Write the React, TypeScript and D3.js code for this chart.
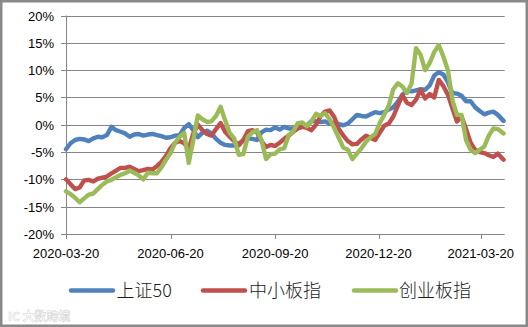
import React from "react";
import * as d3 from "d3";

const dates = [
  "2020-03-20","2020-03-24","2020-03-28","2020-04-01","2020-04-05","2020-04-09","2020-04-13","2020-04-17","2020-04-21","2020-04-25",
  "2020-04-29","2020-05-03","2020-05-07","2020-05-11","2020-05-15","2020-05-19","2020-05-23","2020-05-27","2020-05-31","2020-06-04",
  "2020-06-08","2020-06-12","2020-06-16","2020-06-20","2020-06-24","2020-06-28","2020-07-02","2020-07-06","2020-07-10","2020-07-14",
  "2020-07-18","2020-07-22","2020-07-26","2020-07-30","2020-08-03","2020-08-07","2020-08-11","2020-08-15","2020-08-19","2020-08-23",
  "2020-08-27","2020-08-31","2020-09-04","2020-09-08","2020-09-12","2020-09-16","2020-09-20","2020-09-24","2020-09-28","2020-10-02",
  "2020-10-06","2020-10-10","2020-10-14","2020-10-18","2020-10-22","2020-10-26","2020-10-30","2020-11-03","2020-11-07","2020-11-11",
  "2020-11-15","2020-11-19","2020-11-23","2020-11-27","2020-12-01","2020-12-05","2020-12-09","2020-12-13","2020-12-17","2020-12-21",
  "2020-12-25","2020-12-29","2021-01-02","2021-01-06","2021-01-10","2021-01-14","2021-01-18","2021-01-22","2021-01-26","2021-01-30",
  "2021-02-03","2021-02-07","2021-02-11","2021-02-15","2021-02-19","2021-02-23","2021-02-27","2021-03-03","2021-03-07","2021-03-11",
  "2021-03-15","2021-03-19","2021-03-23","2021-03-27","2021-03-31","2021-04-04","2021-04-09",
];

const sz50 = [
  -4.5,-3.4,-2.8,-2.6,-2.7,-3.0,-2.5,-2.2,-2.3,-1.9,
  -0.4,-1.0,-1.3,-1.6,-2.2,-1.8,-1.7,-2.0,-1.8,-1.7,
  -1.9,-2.1,-2.4,-2.3,-2.0,-1.9,-0.6,0.1,-1.0,-2.3,
  -1.5,-1.1,-1.6,-2.6,-3.3,-3.7,-3.8,-3.8,-3.4,-2.9,
  -2.5,-2.6,-2.8,-1.4,-0.9,-1.0,-0.5,-0.9,-0.4,-0.7,
  -0.7,-0.6,-0.3,-0.1,0.7,0.6,0.5,0.6,0.2,0.4,
  0.1,-0.1,0.2,1.0,1.8,1.6,1.5,1.9,2.3,2.1,
  2.3,2.8,3.2,4.2,5.5,6.2,6.1,6.3,6.5,6.4,
  7.2,9.0,9.6,9.2,7.8,5.8,5.7,5.3,4.3,4.3,
  3.2,2.5,1.9,2.2,2.4,1.8,0.7,
];

const zxb = [
  -10.0,-10.9,-11.8,-11.5,-10.2,-10.1,-10.4,-9.9,-9.7,-9.5,
  -8.9,-8.4,-7.9,-7.9,-7.7,-8.1,-8.5,-8.3,-8.1,-8.2,
  -7.6,-6.8,-5.7,-4.3,-3.3,-3.0,-3.4,-4.5,-1.6,0.0,
  -1.0,-1.7,-2.0,-0.8,0.3,-1.3,-2.2,-3.0,-3.8,-2.8,
  -1.2,-1.0,-1.4,-3.0,-4.1,-3.7,-3.9,-3.3,-2.6,-2.0,
  -1.3,-0.7,-0.4,-0.6,-1.0,0.0,1.6,2.4,2.6,1.4,
  -0.8,-2.0,-3.0,-3.6,-3.5,-2.7,-2.0,-2.4,-2.8,-1.5,
  -0.2,0.2,1.5,3.5,5.4,4.0,3.6,4.6,6.4,4.8,
  5.6,5.0,8.2,7.1,5.5,3.0,0.6,1.5,-0.8,-3.3,
  -4.6,-5.0,-5.2,-5.6,-5.9,-5.3,-6.4,
];

const cyb = [
  -12.2,-12.7,-13.4,-14.2,-13.5,-12.8,-12.6,-11.8,-11.0,-10.4,
  -10.1,-9.6,-9.2,-8.9,-8.4,-8.8,-9.3,-10.0,-8.8,-8.9,
  -8.9,-7.8,-6.4,-5.2,-3.3,-2.2,-1.5,-7.0,-2.8,1.7,
  1.0,0.5,0.6,1.6,3.3,0.8,-1.5,-2.5,-5.5,-5.4,
  -2.2,-1.4,-1.0,-2.8,-6.3,-5.4,-5.3,-4.5,-4.3,-1.9,
  -1.2,0.3,0.4,-0.3,0.6,2.0,1.6,2.1,1.0,-0.6,
  -2.4,-4.2,-4.6,-6.3,-5.3,-4.3,-3.1,-2.3,-1.7,0.3,
  1.8,3.5,6.5,7.6,7.0,5.8,7.5,14.0,12.8,10.0,
  11.3,13.3,14.6,12.5,10.0,4.5,1.8,1.8,-2.8,-4.6,
  -5.2,-4.6,-4.0,-2.0,-0.7,-0.8,-1.6,
];

const seriesNames = ["上证50", "中小板指", "创业板指"];
const seriesColors = ["#4F81BD", "#C0504D", "#9BBB59"];
const seriesValues = [sz50, zxb, cyb];

const yTicks = [-20, -15, -10, -5, 0, 5, 10, 15, 20];
const xTickLabels = ["2020-03-20", "2020-06-20", "2020-09-20", "2020-12-20", "2021-03-20"];
const xDomain = ["2020-03-20", "2021-04-10"];

const W = 528;
const H = 327;
const parse = d3.timeParse("%Y-%m-%d");
const fmt = d3.timeFormat("%Y-%m-%d");

export default function App() {
  const x = d3
    .scaleTime()
    .domain(xDomain.map((s) => parse(s) as Date))
    .range([66, 504.7]);
  const y = d3.scaleLinear().domain([-20, 20]).range([233.9, 15.5]);
  const parsedDates = dates.map((s) => parse(s) as Date);

  const line = d3
    .line<number>()
    .x((_, i) => x(parsedDates[i]))
    .y((v) => y(v));

  const xTicks = xTickLabels.map((s) => parse(s) as Date);
  const font = "'Liberation Sans', Arial, sans-serif";
  const legendItems = [
    { lx: 71, tx: 116.5 },
    { lx: 203, tx: 249 },
    { lx: 354, tx: 399 },
  ];

  return (
    <svg
      width={W}
      height={H}
      style={{ position: "absolute", left: 0, top: 0, background: "#fff" }}
    >
      <rect x={0} y={0} width={W} height={H} fill="#fff" />
      {yTicks.map((t) => (
        <line
          key={t}
          x1={61}
          x2={504.7}
          y1={Math.round(y(t)) + 0.5}
          y2={Math.round(y(t)) + 0.5}
          stroke="#868686"
          strokeWidth={1}
        />
      ))}
      <line x1={66.5} x2={66.5} y1={y(20)} y2={y(-20)} stroke="#868686" strokeWidth={1} />
      {xTicks.map((d, i) => (
        <line
          key={i}
          x1={Math.round(x(d)) + 0.5}
          x2={Math.round(x(d)) + 0.5}
          y1={y(-20)}
          y2={y(-20) + 5}
          stroke="#868686"
          strokeWidth={1}
        />
      ))}
      {yTicks.map((t) => (
        <text
          key={t}
          x={54}
          y={y(t) + 5}
          textAnchor="end"
          fontFamily={font}
          fontSize={13}
          fill="#000"
        >
          {t + "%"}
        </text>
      ))}
      {xTicks.map((d, i) => (
        <text
          key={i}
          x={x(d)}
          y={258}
          textAnchor="middle"
          fontFamily={font}
          fontSize={13}
          fill="#000"
        >
          {fmt(d)}
        </text>
      ))}
      {seriesValues.map((vals, si) => (
        <path
          key={si}
          d={line(vals) || ""}
          fill="none"
          stroke={seriesColors[si]}
          strokeWidth={4.4}
          strokeLinejoin="round"
          strokeLinecap="round"
        />
      ))}
      {seriesNames.map((name, i) => (
        <g key={name}>
          <line
            x1={legendItems[i].lx}
            x2={legendItems[i].lx + 42}
            y1={290.5}
            y2={290.5}
            stroke={seriesColors[i]}
            strokeWidth={4.5}
            strokeLinecap="round"
          />
          <text
            x={legendItems[i].tx}
            y={296.5}
            fontFamily="'Noto Sans CJK SC', 'Noto Sans', sans-serif"
            fontSize={18}
            fontWeight={300}
            fill="#1a1a1a"
          >
            {name}
          </text>
        </g>
      ))}
      <text
        x={8}
        y={321}
        fontFamily="'Noto Sans CJK SC', sans-serif"
        fontSize={12}
        fontWeight="bold"
        fill="#fff"
        stroke="#d8d8d8"
        strokeWidth={0.6}
      >
        {"IC 大数跨境"}
      </text>
      <rect x={1.25} y={1.25} width={W - 2.5} height={H - 2.5} fill="none" stroke="#898989" strokeWidth={2.5} />
    </svg>
  );
}
